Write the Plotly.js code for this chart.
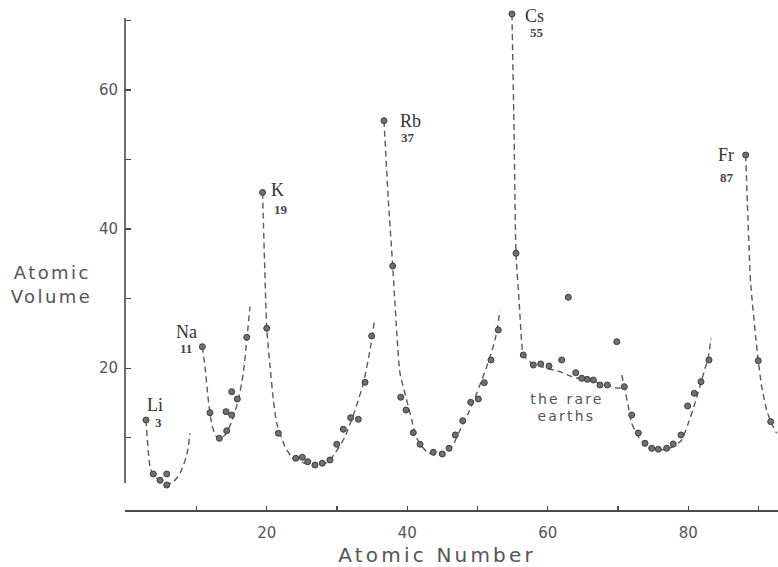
<!DOCTYPE html>
<html>
<head>
<meta charset="utf-8">
<script src="https://cdn.plot.ly/plotly-3.0.1.min.js"></script>
<style>
  html, body { margin: 0; padding: 0; background: #ffffff; }
  #chart { width: 778px; height: 567px; }
  .annotation[data-index="0"] text, .annotation[data-index="1"] text { letter-spacing: 2.4px; }
  .annotation[data-index="2"] text { letter-spacing: 3.2px; }
  .annotation[data-index="3"] text, .annotation[data-index="4"] text { letter-spacing: 2.2px; }
</style>
</head>
<body>
<div id="chart"></div>
<script>
// ---- measured points (atomic number, atomic volume) ----
const dotZ = [
  2.80, 3.84, 4.80, 5.75, 5.75,
  10.82, 11.91, 13.24, 14.29, 14.19, 15.00, 15.00, 15.80, 17.14,
  19.39, 19.99, 21.64, 24.11, 25.05, 25.82, 26.86, 27.90, 28.99, 29.95, 30.89, 31.94, 33.03, 33.98, 34.93,
  36.68, 37.92, 39.06, 39.82, 40.85, 41.81, 43.70, 44.98, 45.94, 46.83, 47.89, 49.02, 50.11, 50.96, 51.91, 52.95,
  54.90, 55.47, 56.51, 57.94, 58.99, 60.17, 61.98, 62.92, 63.97, 64.83, 65.62, 66.48, 67.43, 68.47, 69.81, 70.89,
  71.94, 72.88, 73.84, 74.79, 75.73, 76.92, 77.86, 78.96, 79.91, 80.85, 81.81, 82.95,
  88.17, 89.96, 91.73
];
const dotV = [
  12.55, 4.79, 3.88, 4.79, 3.20,
  23.09, 13.60, 9.92, 11.01, 13.75, 13.27, 16.62, 15.57, 24.44,
  45.26, 25.74, 10.64, 7.05, 7.19, 6.56, 6.08, 6.33, 6.80, 9.06, 11.22, 12.88, 12.65, 17.97, 24.63,
  55.59, 34.69, 15.82, 13.99, 10.73, 9.06, 7.91, 7.66, 8.48, 10.40, 12.45, 15.10, 15.57, 17.92, 21.18, 25.49,
  70.93, 36.52, 21.90, 20.46, 20.61, 20.32, 21.18, 30.19, 19.35, 18.55, 18.40, 18.30, 17.58, 17.58, 23.81, 17.34,
  13.27, 10.68, 9.20, 8.48, 8.34, 8.48, 9.10, 10.40, 14.57, 16.39, 18.06, 21.18,
  50.65, 21.08, 12.31
];

// ---- hand-drawn dashed guide curves ----
const curveLiZ = [2.80, 3.37, 3.84, 5.04, 6.46, 7.64, 8.60, 9.07];
const curveLiV = [12.55, 5.84, 4.64, 3.68, 3.45, 4.89, 7.52, 10.64];
const curveNaZ = [10.82, 11.20, 11.67, 12.24, 13.10, 14.05, 15.00, 15.94, 16.65, 17.14, 17.61];
const curveNaV = [23.09, 20.22, 15.43, 11.59, 9.78, 10.40, 12.31, 15.43, 19.27, 24.05, 28.84];
const curveKZ = [19.39, 19.67, 19.99, 20.46, 20.93, 21.41, 22.59, 23.54, 25.44, 26.86, 28.53, 29.71, 31.13, 32.56, 33.74, 34.69, 35.30];
const curveKV = [45.26, 35.56, 25.74, 20.22, 15.43, 12.08, 8.71, 7.28, 6.33, 5.94, 6.41, 7.76, 10.15, 13.99, 17.83, 22.62, 26.69];
const curveRbZ = [36.68, 37.30, 37.92, 38.49, 38.96, 39.91, 40.63, 41.34, 42.76, 44.41, 46.32, 47.50, 48.68, 49.88, 51.30, 52.48, 53.20];
const curveRbV = [55.59, 44.15, 34.69, 25.24, 19.27, 15.43, 12.55, 9.92, 7.99, 7.52, 8.71, 11.10, 13.52, 16.39, 20.22, 24.05, 28.27];
const curveCsZ = [54.90, 55.19, 55.47, 55.90, 56.26, 56.51, 57.46, 59.36, 61.74, 63.40, 65.54, 67.90, 70.04, 70.89];
const curveCsV = [70.93, 54.25, 36.52, 29.81, 24.06, 21.90, 20.93, 20.13, 19.50, 18.78, 18.30, 17.73, 17.11, 17.34];
const curveHgZ = [70.52, 70.99, 71.46, 71.94, 72.88, 74.08, 75.97, 77.86, 79.06, 80.00, 80.95, 81.91, 82.85, 83.23];
const curveHgV = [19.02, 16.87, 14.46, 12.08, 10.15, 8.96, 8.24, 8.71, 9.68, 12.08, 14.95, 18.30, 21.65, 24.30];
const curveFrZ = [88.17, 88.50, 88.88, 89.64, 89.96, 90.45, 91.16, 91.73, 92.58];
const curveFrV = [50.65, 41.31, 32.21, 24.05, 21.08, 17.34, 13.99, 12.31, 10.64];

// ---- labels ----
const peakSymbols = ['Li', 'Na', 'K', 'Rb', 'Cs', 'Fr'];
const peakNumbers = ['3', '11', '19', '37', '55', '87'];
const peakZ = [2.80, 10.82, 19.39, 36.68, 54.90, 88.17];
const peakV = [12.55, 23.09, 45.26, 55.59, 70.93, 50.65];
const xTickVals = [10, 20, 30, 40, 50, 60, 70, 80, 90];
const xTickText = ['', '20', '', '40', '', '60', '', '80', ''];
const yTickVals = [10, 20, 30, 40, 50, 60, 70];
const yTickText = ['', '20', '', '40', '', '60', ''];

const ink = '#4a4a4a';
const handFont = 'DejaVu Sans, sans-serif';
const serifFont = 'Liberation Serif, serif';

// plot-area frame in pixels (for paper-positioned texts)
const PL = 125, PR = 778, PT = 8, PB = 510;
const fx = px => (px - PL) / (PR - PL);
const fy = py => (PB - py) / (PB - PT);

const curves = [
  [curveLiZ, curveLiV], [curveNaZ, curveNaV], [curveKZ, curveKV], [curveRbZ, curveRbV],
  [curveCsZ, curveCsV], [curveHgZ, curveHgV], [curveFrZ, curveFrV]
];

const traces = curves.map(c => ({
  x: c[0], y: c[1], type: 'scatter', mode: 'lines',
  line: { color: '#5a5a5a', width: 1.4, dash: '6px,4px', shape: 'spline', smoothing: 0.6 },
  hoverinfo: 'skip', showlegend: false
}));
traces.push({
  x: dotZ, y: dotV, type: 'scatter', mode: 'markers', cliponaxis: false,
  marker: { size: 6, color: '#707070', line: { color: '#3c3c3c', width: 1 } },
  showlegend: false
});

// label offsets in pixels relative to each peak dot
const symShift = [[9, 15], [-16, 15], [15, 3], [27, 0], [23, -2], [-20, 0]];
const numShift = [[12, -2], [-16, -2], [18, -17], [24, -17], [25, -19], [-19, -22]];

const annotations = [
  { text: 'Atomic', xref: 'paper', yref: 'paper', x: fx(52), y: fy(272.5), showarrow: false,
    xanchor: 'center', yanchor: 'middle', font: { family: handFont, size: 18, color: '#555' } },
  { text: 'Volume', xref: 'paper', yref: 'paper', x: fx(51), y: fy(296.5), showarrow: false,
    xanchor: 'center', yanchor: 'middle', font: { family: handFont, size: 18, color: '#555' } },
  { text: 'Atomic Number', xref: 'paper', yref: 'paper', x: fx(437.5), y: fy(555), showarrow: false,
    xanchor: 'center', yanchor: 'middle', font: { family: handFont, size: 20, color: '#555' } },
  { text: 'the rare', xref: 'paper', yref: 'paper', x: fx(567), y: fy(398.5), showarrow: false,
    xanchor: 'center', yanchor: 'middle', font: { family: handFont, size: 14, color: '#555' } },
  { text: 'earths', xref: 'paper', yref: 'paper', x: fx(566), y: fy(415.5), showarrow: false,
    xanchor: 'center', yanchor: 'middle', font: { family: handFont, size: 14, color: '#555' } }
];
peakSymbols.forEach((s, i) => {
  annotations.push({ text: s, x: peakZ[i], y: peakV[i], xref: 'x', yref: 'y', showarrow: false,
    xanchor: 'center', yanchor: 'middle', xshift: symShift[i][0], yshift: symShift[i][1],
    font: { family: serifFont, size: 18, color: '#333' } });
  annotations.push({ text: peakNumbers[i], x: peakZ[i], y: peakV[i], xref: 'x', yref: 'y', showarrow: false,
    xanchor: 'center', yanchor: 'middle', xshift: numShift[i][0], yshift: numShift[i][1],
    font: { family: serifFont, size: 13, color: '#444', weight: 'bold' } });
});

const layout = {
  width: 778, height: 567,
  margin: { l: PL, r: 778 - PR, t: PT, b: 567 - PB },
  paper_bgcolor: '#ffffff', plot_bgcolor: '#ffffff',
  showlegend: false,
  xaxis: {
    range: [-0.19, 92.77], showgrid: false, zeroline: false,
    showline: true, linecolor: ink, linewidth: 1.6,
    tickvals: xTickVals, ticktext: xTickText,
    ticks: 'inside', ticklen: 4, tickwidth: 1.2, tickcolor: ink,
    ticklabelstandoff: 8,
    tickfont: { family: handFont, size: 15, color: '#555' }
  },
  yaxis: {
    range: [-0.39, 71.79], showgrid: false, zeroline: false,
    showline: false,
    tickvals: yTickVals, ticktext: yTickText,
    ticks: 'inside', ticklen: 6, tickwidth: 1.2, tickcolor: ink,
    ticklabelstandoff: 6,
    tickfont: { family: handFont, size: 15, color: '#555' }
  },
  shapes: [
    { type: 'line', xref: 'paper', yref: 'y', x0: 0, x1: 0, y0: 3.49, y1: 70.35,
      line: { color: ink, width: 1.6 } }
  ],
  annotations: annotations
};

Plotly.newPlot('chart', traces, layout, { staticPlot: true, displayModeBar: false });
</script>
</body>
</html>
